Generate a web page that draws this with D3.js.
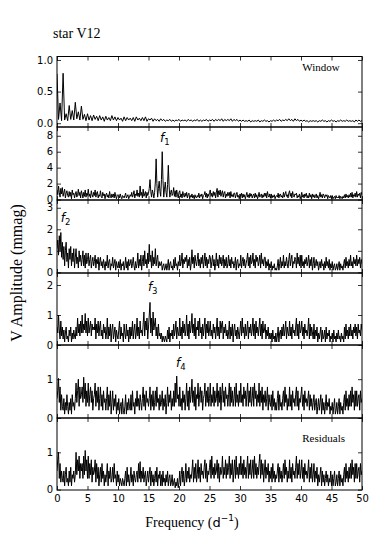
<!DOCTYPE html>
<html>
<head>
<meta charset="utf-8">
<script src="https://cdn.jsdelivr.net/npm/d3@7"></script>
<style>
body { margin: 0; background: #fff; }
</style>
</head>
<body>
<svg id="chart" width="382" height="545"></svg>
<script>
// every series is sampled evenly from 0 to 50 d^-1 (window: 0.25 step, others: 0.125 step)
const freqMax = 50;
const xTicks = [0, 5, 10, 15, 20, 25, 30, 35, 40, 45, 50];

const windowAmp = [
    0.78,
    0.06, 0.32, 0.04, 0.79, 0.05, 0.15, 0.04, 0.28, 0.06, 0.20, 0.05, 0.33, 0.07, 0.18, 0.05, 0.27, 0.06, 0.14, 0.04, 0.15,
    0.05, 0.12, 0.04, 0.13, 0.06, 0.11, 0.04, 0.12, 0.05, 0.10, 0.03, 0.11, 0.05, 0.09, 0.04, 0.12, 0.05, 0.10, 0.04, 0.09,
    0.05, 0.08, 0.03, 0.10, 0.04, 0.09, 0.05, 0.08, 0.04, 0.09, 0.03, 0.10, 0.05, 0.08, 0.04, 0.09, 0.04, 0.10, 0.03, 0.07,
    0.05, 0.08, 0.03, 0.07, 0.04, 0.06, 0.03, 0.07, 0.04, 0.06, 0.03, 0.05, 0.04, 0.06, 0.03, 0.05, 0.03, 0.05, 0.04, 0.06,
    0.03, 0.05, 0.04, 0.05, 0.03, 0.06, 0.04, 0.05, 0.03, 0.05, 0.04, 0.06, 0.03, 0.05, 0.03, 0.05, 0.04, 0.06, 0.03, 0.05,
    0.04, 0.06, 0.03, 0.06, 0.04, 0.06, 0.04, 0.07, 0.03, 0.06, 0.04, 0.06, 0.04, 0.07, 0.03, 0.06, 0.04, 0.06, 0.03, 0.05,
    0.03, 0.05, 0.03, 0.04, 0.03, 0.05, 0.02, 0.04, 0.03, 0.04, 0.03, 0.05, 0.02, 0.04, 0.03, 0.05, 0.03, 0.04, 0.02, 0.04,
    0.03, 0.05, 0.03, 0.05, 0.04, 0.06, 0.03, 0.05, 0.04, 0.06, 0.04, 0.07, 0.04, 0.06, 0.03, 0.07, 0.04, 0.06, 0.03, 0.05,
    0.03, 0.05, 0.03, 0.04, 0.02, 0.04, 0.03, 0.04, 0.03, 0.04, 0.02, 0.04, 0.03, 0.05, 0.03, 0.04, 0.02, 0.04, 0.03, 0.05,
    0.03, 0.04, 0.02, 0.04, 0.03, 0.05, 0.03, 0.04, 0.03, 0.05, 0.03, 0.04, 0.03, 0.04, 0.02, 0.05, 0.03, 0.05, 0.03, 0.04
];

const f1Amp = [
    1.2,
    0.6, 1.7, 0.9, 0.3, 1.4, 0.7, 1.5, 0.4, 0.9, 1.3, 0.2, 0.8, 1.1, 0.5, 0.3, 1.0,
    0.4, 0.9, 0.1, 1.2, 0.6, 0.8, 0.2, 0.7, 1.0, 0.3, 0.6, 1.3, 0.5, 0.9, 0.2, 1.1,
    0.7, 0.2, 0.9, 0.4, 1.2, 0.3, 0.8, 0.5, 1.3, 0.4, 0.7, 0.2, 1.1, 0.6, 0.3, 0.9,
    0.5, 1.2, 0.3, 0.8, 1.0, 0.2, 0.6, 0.4, 1.1, 0.4, 0.2, 0.9, 0.5, 0.7, 0.1, 0.6,
    0.8, 0.3, 0.6, 0.2, 1.0, 0.4, 0.2, 0.7, 0.3, 0.7, 0.2, 0.9, 0.4, 0.1, 0.6, 0.5,
    0.6, 0.2, 0.7, 0.3, 0.1, 0.5, 0.4, 0.2, 0.5, 0.8, 0.2, 0.4, 0.6, 0.1, 0.3, 0.6,
    0.4, 0.9, 0.3, 0.6, 1.1, 0.2, 0.7, 0.5, 1.2, 0.4, 0.8, 0.3, 1.7, 0.5, 0.9, 0.2,
    1.3, 0.4, 0.7, 1.0, 0.2, 0.9, 0.5, 0.8, 1.4, 2.5, 1.0, 0.3, 1.2, 0.8, 0.2, 0.9,
    2.2, 5.1, 2.0, 0.3, 1.4, 2.3, 1.0, 0.4, 2.5, 6.0, 2.4, 0.3, 1.3, 2.2, 0.9, 0.3,
    1.9, 4.3, 1.7, 0.3, 0.9, 1.2, 0.5, 0.7, 1.5, 0.4, 1.1, 0.3, 1.2, 0.6, 0.2, 0.9,
    1.1, 0.3, 0.7, 0.2, 1.0, 0.5, 0.3, 0.8, 0.4, 0.9, 0.2, 0.6, 0.8, 0.1, 0.5, 0.3,
    0.7, 0.2, 0.5, 0.1, 0.6, 0.3, 0.2, 0.5, 0.3, 0.8, 0.2, 0.6, 0.4, 0.7, 0.1, 0.5,
    0.6, 1.0, 0.3, 0.8, 0.2, 0.7, 0.4, 0.9, 1.2, 0.4, 0.8, 0.3, 1.0, 0.5, 0.9, 0.2,
    0.9, 1.4, 0.3, 1.1, 0.6, 1.2, 0.4, 0.8, 1.1, 0.3, 0.8, 1.0, 0.2, 0.7, 0.4, 0.9,
    0.5, 0.9, 0.2, 1.0, 0.4, 0.6, 0.3, 0.8, 0.8, 0.2, 0.6, 0.9, 0.3, 0.5, 0.1, 0.7,
    0.4, 0.8, 0.2, 0.7, 0.3, 0.6, 0.1, 0.5, 0.9, 0.3, 0.6, 0.2, 0.8, 0.4, 0.7, 0.2,
    0.5, 0.7, 0.2, 0.8, 0.3, 0.6, 0.1, 0.4, 0.9, 0.3, 0.5, 0.7, 0.2, 0.6, 0.3, 0.8,
    0.4, 0.8, 0.2, 1.0, 0.5, 0.3, 0.7, 0.2, 0.7, 0.2, 0.5, 0.3, 0.6, 0.1, 0.4, 0.5,
    0.3, 0.8, 0.2, 0.6, 0.7, 0.3, 0.5, 0.2, 0.9, 0.3, 0.7, 1.0, 0.4, 0.6, 0.2, 0.8,
    1.1, 0.4, 0.8, 0.2, 1.0, 0.5, 0.3, 0.7, 0.6, 0.8, 0.2, 0.5, 0.3, 0.7, 0.1, 0.4,
    0.9, 0.3, 0.6, 0.2, 0.7, 0.4, 0.8, 0.2, 0.5, 0.2, 0.8, 0.3, 0.6, 0.1, 0.7, 0.3,
    0.6, 0.2, 0.4, 0.7, 0.2, 0.5, 0.1, 0.4, 0.9, 0.3, 0.6, 0.2, 0.7, 0.5, 0.2, 0.6,
    0.4, 0.6, 0.1, 0.5, 0.3, 0.2, 0.5, 0.1, 0.5, 0.1, 0.3, 0.4, 0.1, 0.5, 0.2, 0.3,
    0.2, 0.5, 0.1, 0.4, 0.3, 0.1, 0.4, 0.2, 0.6, 0.2, 0.7, 0.3, 0.5, 0.2, 0.6, 0.3,
    0.8, 0.3, 0.9, 0.2, 0.6, 0.4, 0.8, 0.3, 1.0, 0.3, 0.7, 0.5, 0.8, 0.2, 0.9, 0.6
];

const f2Amp = [
    1.1,
    1.5, 0.8, 1.7, 1.0, 1.85, 0.7, 1.4, 0.6, 1.2, 0.3, 1.0, 1.4, 0.5, 0.9, 0.2, 1.1,
    0.6, 1.2, 0.3, 0.9, 0.5, 1.1, 0.2, 0.7, 1.1, 0.4, 0.7, 0.2, 1.0, 0.5, 0.8, 0.3,
    0.6, 1.0, 0.3, 0.8, 0.2, 0.9, 0.4, 0.6, 0.9, 0.3, 0.6, 0.8, 0.2, 0.5, 0.7, 0.3,
    0.5, 0.8, 0.2, 0.6, 0.4, 0.7, 0.1, 0.5, 0.7, 0.3, 0.5, 0.2, 0.6, 0.4, 0.1, 0.5,
    0.3, 0.8, 0.2, 0.5, 0.6, 0.1, 0.4, 0.3, 0.7, 0.2, 0.4, 0.6, 0.1, 0.5, 0.3, 0.2,
    0.5, 0.2, 0.6, 0.1, 0.4, 0.3, 0.5, 0.1, 0.3, 0.7, 0.2, 0.5, 0.1, 0.6, 0.3, 0.4,
    0.6, 0.2, 0.4, 0.7, 0.3, 0.1, 0.5, 0.2, 0.4, 0.9, 0.2, 0.6, 0.3, 0.8, 0.1, 0.5,
    0.8, 0.3, 1.0, 0.4, 0.6, 0.2, 0.9, 0.4, 1.3, 0.5, 0.8, 0.2, 1.0, 0.3, 0.7, 0.4,
    1.1, 0.3, 0.6, 0.8, 0.2, 0.5, 0.3, 0.4, 0.5, 0.1, 0.3, 0.4, 0.1, 0.2, 0.4, 0.1,
    0.3, 0.6, 0.1, 0.4, 0.5, 0.2, 0.3, 0.1, 0.6, 0.2, 0.7, 0.3, 0.4, 0.1, 0.5, 0.3,
    0.8, 0.3, 0.5, 0.9, 0.2, 0.6, 0.4, 0.7, 0.5, 0.8, 0.2, 0.6, 0.3, 0.7, 0.1, 0.4,
    1.05, 0.4, 0.7, 0.2, 0.8, 0.5, 0.3, 0.6, 0.9, 0.3, 0.6, 0.2, 0.7, 0.4, 0.8, 0.2,
    0.5, 0.9, 0.3, 0.7, 0.2, 0.6, 0.4, 0.8, 0.7, 0.2, 0.5, 0.8, 0.3, 0.6, 0.1, 0.4,
    0.9, 0.3, 0.6, 0.2, 0.8, 0.4, 0.7, 0.3, 0.5, 0.8, 0.2, 0.6, 0.3, 0.7, 0.2, 0.4,
    0.8, 0.3, 0.6, 0.2, 0.7, 0.4, 0.5, 0.2, 0.4, 0.7, 0.1, 0.5, 0.6, 0.2, 0.4, 0.3,
    0.8, 0.2, 0.5, 0.7, 0.3, 0.6, 0.2, 0.4, 0.6, 0.9, 0.3, 0.7, 0.2, 0.8, 0.4, 0.5,
    0.9, 0.3, 0.6, 0.2, 0.8, 0.5, 0.7, 0.3, 0.5, 0.8, 0.2, 0.9, 0.4, 0.6, 0.3, 0.7,
    0.7, 0.2, 0.5, 0.3, 0.6, 0.1, 0.4, 0.2, 0.5, 0.1, 0.3, 0.2, 0.4, 0.1, 0.2, 0.1,
    0.3, 0.6, 0.1, 0.4, 0.7, 0.2, 0.5, 0.3, 0.8, 0.2, 0.5, 0.3, 0.7, 0.4, 0.2, 0.6,
    0.9, 0.3, 0.6, 0.8, 0.2, 0.5, 0.4, 0.7, 0.6, 0.2, 0.9, 0.4, 0.7, 0.3, 0.8, 0.2,
    0.8, 0.3, 0.5, 0.2, 0.6, 0.4, 0.7, 0.3, 0.5, 0.8, 0.2, 0.6, 0.3, 0.7, 0.1, 0.4,
    0.7, 0.2, 0.4, 0.6, 0.3, 0.5, 0.1, 0.3, 0.5, 0.2, 0.6, 0.3, 0.4, 0.1, 0.5, 0.2,
    0.7, 0.3, 0.5, 0.2, 0.6, 0.1, 0.4, 0.2, 0.5, 0.1, 0.3, 0.4, 0.1, 0.2, 0.4, 0.1,
    0.3, 0.5, 0.1, 0.4, 0.2, 0.3, 0.1, 0.4, 0.6, 0.2, 0.7, 0.3, 0.5, 0.2, 0.6, 0.3,
    0.8, 0.3, 0.5, 0.2, 0.7, 0.4, 0.6, 0.3, 0.8, 0.3, 0.6, 0.4, 0.7, 0.2, 0.6, 0.4
];

const f3Amp = [
    0.6,
    0.4, 1.0, 0.5, 0.2, 0.8, 0.3, 0.6, 0.2, 0.5, 0.1, 0.4, 0.6, 0.2, 0.3, 0.1, 0.5,
    0.3, 0.6, 0.1, 0.4, 0.2, 0.5, 0.3, 0.2, 0.6, 0.3, 0.9, 0.4, 0.7, 0.3, 0.8, 0.4,
    1.0, 0.4, 0.7, 0.5, 1.05, 0.4, 0.8, 0.3, 0.9, 0.4, 0.6, 0.8, 0.3, 0.7, 0.5, 0.6,
    0.5, 0.9, 0.2, 0.7, 0.4, 0.8, 0.3, 0.6, 0.8, 0.3, 0.5, 0.2, 0.7, 0.4, 0.6, 0.2,
    0.4, 0.9, 0.2, 0.6, 0.3, 0.7, 0.1, 0.5, 0.7, 0.2, 0.4, 0.6, 0.1, 0.5, 0.3, 0.2,
    0.5, 0.8, 0.2, 0.6, 0.3, 0.4, 0.1, 0.7, 0.4, 0.2, 0.7, 0.3, 0.5, 0.1, 0.6, 0.2,
    0.6, 0.3, 0.8, 0.2, 0.5, 0.7, 0.2, 0.4, 0.9, 0.3, 0.6, 0.2, 0.8, 0.4, 0.5, 0.3,
    0.7, 1.1, 0.3, 0.8, 0.5, 0.9, 0.2, 0.6, 1.0, 1.42, 0.4, 0.9, 0.3, 1.1, 0.5, 0.7,
    0.9, 0.3, 0.6, 0.2, 0.7, 0.3, 0.4, 0.2, 0.4, 0.1, 0.3, 0.2, 0.1, 0.3, 0.2, 0.1,
    0.5, 0.2, 0.6, 0.1, 0.4, 0.3, 0.5, 0.2, 0.7, 0.3, 0.5, 0.8, 0.2, 0.6, 0.4, 0.3,
    0.9, 0.3, 0.6, 0.2, 0.8, 0.4, 0.7, 0.3, 0.5, 1.0, 0.3, 0.7, 0.2, 0.8, 0.4, 0.6,
    1.05, 0.4, 0.7, 0.3, 0.9, 0.2, 0.6, 0.5, 0.8, 0.3, 0.9, 0.4, 0.6, 0.2, 0.7, 0.3,
    0.6, 0.9, 0.2, 0.7, 0.4, 0.8, 0.3, 0.5, 0.8, 0.3, 0.5, 0.2, 0.7, 0.4, 0.6, 0.2,
    0.5, 0.9, 0.3, 0.6, 0.2, 0.8, 0.4, 0.7, 0.8, 0.2, 0.6, 0.4, 0.7, 0.3, 0.5, 0.2,
    0.4, 0.8, 0.2, 0.6, 0.3, 0.7, 0.1, 0.5, 0.7, 0.3, 0.5, 0.2, 0.6, 0.4, 0.2, 0.5,
    0.8, 0.3, 0.9, 0.4, 0.6, 0.2, 0.7, 0.3, 0.5, 0.8, 0.2, 0.6, 0.4, 0.7, 0.3, 0.5,
    0.9, 0.3, 0.7, 0.2, 0.8, 0.4, 0.6, 0.3, 0.6, 0.9, 0.3, 0.7, 0.2, 0.8, 0.4, 0.5,
    0.7, 0.2, 0.5, 0.3, 0.6, 0.2, 0.4, 0.2, 0.4, 0.1, 0.5, 0.2, 0.3, 0.1, 0.4, 0.1,
    0.3, 0.6, 0.1, 0.4, 0.5, 0.2, 0.6, 0.3, 0.7, 0.3, 0.5, 0.8, 0.2, 0.6, 0.4, 0.3,
    0.8, 0.3, 0.6, 0.2, 0.7, 0.4, 0.5, 0.3, 0.6, 0.9, 0.3, 0.7, 0.2, 0.8, 0.4, 0.5,
    0.8, 0.3, 0.6, 0.2, 0.7, 0.4, 0.5, 0.3, 0.5, 0.9, 0.2, 0.7, 0.3, 0.6, 0.4, 0.2,
    0.7, 0.2, 0.5, 0.3, 0.6, 0.1, 0.4, 0.2, 0.4, 0.6, 0.1, 0.5, 0.2, 0.3, 0.5, 0.1,
    0.6, 0.2, 0.4, 0.3, 0.5, 0.1, 0.3, 0.2, 0.4, 0.1, 0.5, 0.2, 0.3, 0.1, 0.4, 0.2,
    0.5, 0.2, 0.3, 0.1, 0.4, 0.2, 0.3, 0.1, 0.6, 0.2, 0.7, 0.3, 0.5, 0.2, 0.6, 0.3,
    0.7, 0.3, 0.5, 0.2, 0.6, 0.4, 0.7, 0.3, 0.6, 0.2, 0.7, 0.4, 0.5, 0.3, 0.7, 0.5
];

const f4Amp = [
    0.5,
    0.7, 1.02, 0.4, 0.8, 0.2, 0.6, 0.3, 0.2, 0.5, 0.1, 0.4, 0.2, 0.6, 0.3, 0.1, 0.4,
    0.2, 0.5, 0.1, 0.6, 0.3, 0.4, 0.2, 0.5, 0.9, 0.4, 0.7, 1.0, 0.3, 0.8, 0.5, 0.6,
    0.8, 0.4, 1.05, 0.5, 0.9, 0.3, 0.7, 0.4, 0.9, 0.3, 0.6, 0.8, 0.4, 0.7, 0.2, 0.5,
    0.6, 0.9, 0.3, 0.7, 0.4, 0.8, 0.2, 0.5, 0.8, 0.3, 0.6, 0.2, 0.7, 0.4, 0.5, 0.2,
    0.5, 0.8, 0.2, 0.6, 0.3, 0.7, 0.1, 0.4, 0.7, 0.2, 0.5, 0.3, 0.6, 0.1, 0.4, 0.2,
    0.5, 0.1, 0.3, 0.4, 0.1, 0.5, 0.2, 0.1, 0.3, 0.6, 0.1, 0.4, 0.2, 0.5, 0.3, 0.2,
    0.6, 0.2, 0.7, 0.3, 0.4, 0.1, 0.5, 0.3, 0.7, 0.3, 0.5, 0.2, 0.6, 0.4, 0.2, 0.5,
    0.8, 0.3, 0.6, 0.2, 0.7, 0.4, 0.5, 0.3, 0.5, 0.8, 0.2, 0.6, 0.3, 0.7, 0.2, 0.4,
    0.7, 0.3, 0.8, 0.4, 0.5, 0.2, 0.6, 0.3, 0.4, 0.7, 0.2, 0.5, 0.3, 0.6, 0.1, 0.4,
    0.8, 0.3, 0.6, 0.4, 0.7, 0.2, 0.5, 0.3, 0.7, 0.3, 0.9, 0.4, 1.08, 0.5, 0.6, 0.3,
    0.8, 0.3, 0.5, 0.2, 0.7, 0.4, 0.6, 0.2, 0.5, 0.9, 0.3, 0.7, 0.2, 0.8, 0.4, 0.6,
    1.0, 0.4, 0.7, 0.3, 0.8, 0.2, 0.6, 0.5, 0.9, 0.3, 0.6, 0.8, 0.4, 0.7, 0.2, 0.5,
    0.6, 0.9, 0.3, 0.7, 0.4, 0.8, 0.3, 0.5, 0.9, 0.3, 0.6, 0.4, 0.8, 0.3, 0.7, 0.4,
    0.5, 0.9, 0.3, 0.7, 0.4, 0.8, 0.2, 0.6, 0.9, 0.4, 0.7, 0.3, 0.8, 0.5, 0.6, 0.3,
    0.6, 0.9, 0.3, 0.8, 0.4, 0.7, 0.3, 0.5, 0.8, 0.3, 0.9, 0.4, 0.6, 0.3, 0.7, 0.4,
    0.9, 0.4, 0.6, 0.3, 0.8, 0.5, 0.7, 0.3, 0.6, 0.9, 0.3, 0.7, 0.4, 0.8, 0.3, 0.5,
    0.8, 0.3, 0.9, 0.5, 0.7, 0.3, 0.6, 0.4, 0.9, 0.3, 0.7, 0.4, 0.8, 0.2, 0.6, 0.4,
    0.7, 0.3, 0.5, 0.8, 0.2, 0.6, 0.4, 0.3, 0.6, 0.2, 0.7, 0.3, 0.5, 0.2, 0.4, 0.2,
    0.5, 0.7, 0.2, 0.6, 0.3, 0.4, 0.2, 0.5, 0.7, 0.3, 0.8, 0.4, 0.6, 0.2, 0.5, 0.3,
    0.8, 0.3, 0.6, 0.2, 0.7, 0.4, 0.5, 0.3, 0.6, 0.8, 0.3, 0.7, 0.2, 0.5, 0.4, 0.6,
    0.8, 0.3, 0.6, 0.2, 0.7, 0.4, 0.5, 0.3, 0.5, 0.7, 0.2, 0.6, 0.3, 0.5, 0.2, 0.4,
    0.6, 0.2, 0.4, 0.5, 0.1, 0.3, 0.5, 0.2, 0.4, 0.6, 0.1, 0.5, 0.2, 0.4, 0.1, 0.3,
    0.6, 0.2, 0.4, 0.3, 0.5, 0.1, 0.3, 0.2, 0.4, 0.1, 0.3, 0.5, 0.1, 0.2, 0.4, 0.1,
    0.3, 0.5, 0.1, 0.4, 0.2, 0.3, 0.1, 0.4, 0.6, 0.2, 0.7, 0.3, 0.5, 0.2, 0.6, 0.3,
    0.7, 0.3, 0.8, 0.4, 0.6, 0.2, 0.7, 0.3, 0.7, 0.3, 0.5, 0.6, 0.2, 0.7, 0.4, 0.5
];

const residualAmp = [
    0.5,
    0.8, 1.0, 0.3, 0.7, 0.2, 0.5, 0.3, 0.2, 0.5, 0.1, 0.4, 0.6, 0.2, 0.3, 0.1, 0.5,
    0.2, 0.6, 0.1, 0.4, 0.3, 0.5, 0.2, 0.4, 1.0, 0.4, 0.8, 0.5, 0.9, 0.3, 0.7, 0.5,
    0.7, 0.3, 0.9, 0.4, 1.05, 0.5, 0.8, 0.3, 0.9, 0.3, 0.7, 0.4, 0.8, 0.2, 0.6, 0.4,
    0.5, 0.8, 0.2, 0.7, 0.3, 0.6, 0.1, 0.4, 0.6, 0.2, 0.7, 0.3, 0.5, 0.1, 0.4, 0.2,
    0.4, 0.7, 0.1, 0.5, 0.3, 0.6, 0.2, 0.3, 0.6, 0.2, 0.7, 0.3, 0.4, 0.1, 0.5, 0.2,
    0.4, 0.1, 0.3, 0.2, 0.1, 0.3, 0.2, 0.1, 0.3, 0.5, 0.1, 0.6, 0.2, 0.4, 0.1, 0.3,
    0.6, 0.2, 0.4, 0.1, 0.5, 0.3, 0.2, 0.4, 0.5, 0.2, 0.7, 0.3, 0.75, 0.2, 0.5, 0.3,
    0.6, 0.2, 0.4, 0.5, 0.1, 0.3, 0.5, 0.2, 0.4, 0.6, 0.1, 0.5, 0.2, 0.4, 0.1, 0.3,
    0.5, 0.2, 0.6, 0.1, 0.4, 0.3, 0.5, 0.1, 0.4, 0.1, 0.5, 0.2, 0.3, 0.1, 0.4, 0.2,
    0.5, 0.1, 0.3, 0.4, 0.1, 0.2, 0.4, 0.1, 0.2, 0.3, 0.05, 0.2, 0.1, 0.3, 0.05, 0.2,
    0.5, 0.1, 0.4, 0.6, 0.2, 0.5, 0.1, 0.3, 0.7, 0.2, 0.5, 0.3, 0.6, 0.2, 0.4, 0.3,
    0.5, 0.8, 0.2, 0.6, 0.3, 0.7, 0.2, 0.4, 0.8, 0.3, 0.6, 0.2, 0.7, 0.4, 0.5, 0.3,
    0.6, 0.8, 0.3, 0.7, 0.2, 0.5, 0.4, 0.6, 0.8, 0.3, 0.9, 0.4, 0.6, 0.3, 0.7, 0.4,
    0.5, 0.8, 0.3, 0.7, 0.2, 0.6, 0.4, 0.5, 0.9, 0.3, 0.6, 0.4, 0.8, 0.3, 0.7, 0.4,
    0.6, 0.9, 0.3, 0.7, 0.4, 0.8, 0.2, 0.5, 0.8, 0.3, 0.9, 0.4, 0.6, 0.3, 0.7, 0.4,
    0.9, 0.4, 0.7, 0.3, 0.8, 0.4, 0.6, 0.3, 0.6, 0.9, 0.3, 0.7, 0.4, 0.8, 0.3, 0.5,
    0.8, 0.3, 0.9, 0.4, 0.7, 0.3, 0.6, 0.4, 0.7, 0.95, 0.3, 0.8, 0.4, 0.7, 0.2, 0.5,
    0.8, 0.3, 0.6, 0.4, 0.7, 0.2, 0.5, 0.3, 0.6, 0.2, 0.7, 0.3, 0.5, 0.2, 0.4, 0.3,
    0.5, 0.7, 0.2, 0.6, 0.3, 0.5, 0.2, 0.4, 0.7, 0.3, 0.8, 0.4, 0.6, 0.2, 0.5, 0.3,
    0.8, 0.3, 0.6, 0.2, 0.7, 0.4, 0.5, 0.3, 0.6, 0.9, 0.3, 0.7, 0.4, 0.8, 0.3, 0.5,
    0.8, 0.3, 0.6, 0.2, 0.7, 0.4, 0.5, 0.3, 0.5, 0.8, 0.2, 0.6, 0.3, 0.7, 0.2, 0.4,
    0.7, 0.2, 0.5, 0.3, 0.6, 0.1, 0.4, 0.2, 0.4, 0.6, 0.1, 0.5, 0.2, 0.4, 0.1, 0.3,
    0.5, 0.2, 0.4, 0.1, 0.3, 0.2, 0.5, 0.1, 0.4, 0.1, 0.3, 0.5, 0.1, 0.2, 0.4, 0.1,
    0.3, 0.5, 0.1, 0.4, 0.2, 0.3, 0.1, 0.4, 0.6, 0.2, 0.7, 0.3, 0.5, 0.2, 0.6, 0.3,
    0.7, 0.3, 0.8, 0.4, 0.6, 0.2, 0.7, 0.3, 0.7, 0.3, 0.5, 0.6, 0.2, 0.7, 0.4, 0.5
];

// y tick labels for each panel
const windowTicks = [0, 0.5, 1.0];
const f1Ticks = [0, 2, 4, 6, 8];
const f2Ticks = [0, 1, 2, 3];
const f3Ticks = [0, 1, 2];
const f4Ticks = [0, 1];
const residualTicks = [0, 1];

// layout: one entry per stacked panel
const panels = [
    { values: windowAmp, ticks: windowTicks, fmt: '.1f', top: 56.5, bottom: 127, yDomain: [-0.06, 1.055],
      text: { label: 'Window', f: 40.2, v: 0.83 } },
    { values: f1Amp, ticks: f1Ticks, fmt: 'd', top: 127, bottom: 200, yDomain: [-0.06, 9.1],
      peak: { sub: '1', f: 16.9, v: 7.2 } },
    { values: f2Amp, ticks: f2Ticks, fmt: 'd', top: 200, bottom: 273, yDomain: [-0.03, 3.36],
      peak: { sub: '2', f: 0.6, v: 2.35 } },
    { values: f3Amp, ticks: f3Ticks, fmt: 'd', top: 273, bottom: 345, yDomain: [0, 2.4],
      peak: { sub: '3', f: 14.9, v: 1.8 } },
    { values: f4Amp, ticks: f4Ticks, fmt: 'd', top: 345, bottom: 418, yDomain: [0, 1.88],
      peak: { sub: '4', f: 19.5, v: 1.31 } },
    { values: residualAmp, ticks: residualTicks, fmt: 'd', top: 418, bottom: 490, yDomain: [-0.01, 1.92],
      text: { label: 'Residuals', f: 40.2, v: 1.29 } }
];

const left = 57, right = 362;
const sans = "'DejaVu Sans', sans-serif";
const serif = "'Liberation Serif', 'Times New Roman', serif";

const svg = d3.select("#chart");
const x = d3.scaleLinear().domain([0, freqMax]).range([left, right]);

panels.forEach(function (p, i) {
    let y = d3.scaleLinear().domain(p.yDomain).range([p.bottom, p.top]);
    let step = freqMax / (p.values.length - 1);
    let g = svg.append("g");

    g.append("clipPath").attr("id", "clip" + i)
        .append("rect")
        .attr("x", left).attr("y", p.top)
        .attr("width", right - left).attr("height", p.bottom - p.top);

    let line = d3.line()
        .x((d, k) => x(k * step))
        .y(d => y(d));

    g.append("path")
        .datum(p.values)
        .attr("clip-path", "url(#clip" + i + ")")
        .attr("fill", "none")
        .attr("stroke", "#000")
        .attr("stroke-width", 1)
        .attr("d", line);

    // inward ticks on all four sides
    let isLast = (i == panels.length - 1);
    let axes = [
        [d3.axisLeft(y).tickValues(p.ticks).tickSize(-4).tickPadding(4).tickFormat(d3.format(p.fmt)), left, 0],
        [d3.axisRight(y).tickValues(p.ticks).tickSize(-4).tickFormat(''), right, 0],
        [d3.axisTop(x).tickValues(xTicks).tickSize(-4).tickFormat(''), 0, p.top],
        [d3.axisBottom(x).tickValues(xTicks).tickSize(-4).tickPadding(5)
            .tickFormat(isLast ? d3.format('d') : ''), 0, p.bottom]
    ];
    for (const [ax, tx, ty] of axes) {
        let a = g.append("g").attr("transform", `translate(${tx},${ty})`).call(ax);
        a.select(".domain").remove();
        a.selectAll("line").attr("stroke", "#000").attr("stroke-width", 0.8);
        a.selectAll("text").attr("fill", "#000").style("font-family", sans).style("font-size", "10px");
    }

    g.append("rect")
        .attr("x", left).attr("y", p.top)
        .attr("width", right - left).attr("height", p.bottom - p.top)
        .attr("fill", "none").attr("stroke", "#000").attr("stroke-width", 1);

    if (p.text) {
        g.append("text")
            .attr("x", x(p.text.f)).attr("y", y(p.text.v))
            .style("font-family", serif).style("font-size", "11px")
            .text(p.text.label);
    }
    if (p.peak) {
        let t = g.append("text")
            .attr("x", x(p.peak.f)).attr("y", y(p.peak.v))
            .style("font-family", sans).style("font-size", "12px");
        t.append("tspan").style("font-style", "italic").text("f");
        t.append("tspan").attr("dy", 3).style("font-size", "8.5px").text(p.peak.sub);
    }
});

// title and axis labels
svg.append("text")
    .attr("x", 53).attr("y", 38)
    .style("font-family", serif).style("font-size", "14px")
    .text("star V12");

svg.append("text")
    .attr("transform", "translate(22,273) rotate(-90)")
    .attr("text-anchor", "middle")
    .style("font-family", serif).style("font-size", "16px")
    .text("V Amplitude (mmag)");

let xl = svg.append("text")
    .attr("x", 192).attr("y", 527)
    .attr("text-anchor", "middle")
    .style("font-family", serif).style("font-size", "14px");
xl.append("tspan").text("Frequency (");
xl.append("tspan").style("font-family", sans).style("font-size", "13px").text("d");
xl.append("tspan").attr("dy", -6).style("font-family", sans).style("font-size", "9px").text("\u22121");
xl.append("tspan").attr("dy", 6).text(")");
</script>
</body>
</html>
